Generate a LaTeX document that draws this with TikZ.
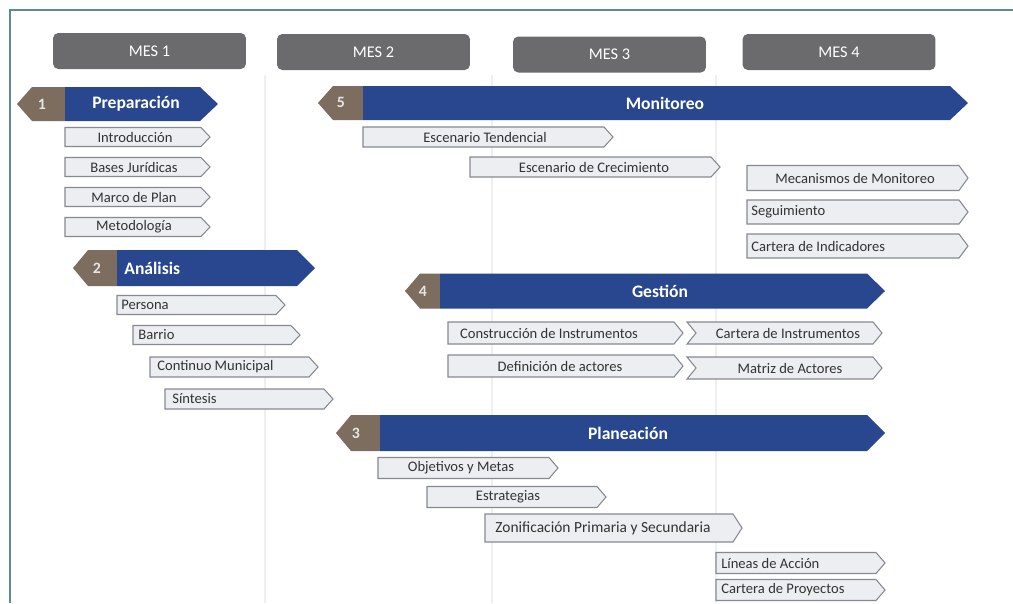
\documentclass[tikz,border=0pt]{standalone}
\usepackage{fontspec}
\setmainfont{Carlito}
\definecolor{mesgray}{HTML}{6B6B6D}
\definecolor{phblue}{HTML}{28478F}
\definecolor{phbrown}{HTML}{7D6D5E}
\definecolor{subfill}{HTML}{ECEEF2}
\definecolor{subline}{HTML}{868A90}
\definecolor{subtextc}{HTML}{333333}
\definecolor{frameblue}{HTML}{5E8797}
\definecolor{sepgray}{HTML}{EFEFEF}
\tikzset{
  mesbox/.style={fill=mesgray, rounded corners=3pt, text=white, minimum width=3.86cm, minimum height=0.72cm, inner sep=0pt, font=\fontsize{9.3}{10}\selectfont},
  subshape/.style={fill=subfill, draw=subline, line width=0.6pt, line join=miter},
  subtext/.style={text=subtextc, inner sep=0pt, font=\fontsize{8.3}{9}\selectfont},
  phnum/.style={text=white!90!black, inner sep=0pt, font=\bfseries\fontsize{9}{10}\selectfont},
  phtext/.style={text=white, inner sep=0pt, font=\bfseries\fontsize{10}{11}\selectfont},
  sepline/.style={draw=sepgray, line width=1pt},
}
\newcommand\subarrow[4]{%
  \filldraw[subshape] (#1,{#3-#4/2}) -- ({#2-9},{#3-#4/2}) -- (#2,#3) -- ({#2-9},{#3+#4/2}) -- (#1,{#3+#4/2}) -- cycle;}
\newcommand\subchevron[4]{%
  \filldraw[subshape] (#1,{#3-#4/2}) -- ({#2-9},{#3-#4/2}) -- (#2,#3) -- ({#2-9},{#3+#4/2}) -- (#1,{#3+#4/2}) -- ({#1+9},#3) -- cycle;}
\newcommand\phasebar[5]{%
  \fill[phbrown] (#1,#4) -- ({#1+15},{#4-#5/2}) -- (#2,{#4-#5/2}) -- (#2,{#4+#5/2}) -- ({#1+15},{#4+#5/2}) -- cycle;
  \fill[phblue] (#2,{#4-#5/2}) -- ({#3-18},{#4-#5/2}) -- (#3,#4) -- ({#3-18},{#4+#5/2}) -- (#2,{#4+#5/2}) -- cycle;}
\begin{document}
\begin{tikzpicture}[x=0.02cm, y=-0.02cm]
\useasboundingbox (0,0) rectangle (1013,603);
\fill[white] (0,0) rectangle (1013,603);
% frame
\draw[frameblue, line width=1.2pt] (10,603) -- (10,10) -- (1013,10);
% separators
\draw[sepline] (265,75) -- (265,603);
\draw[sepline] (492,75) -- (492,603);
\draw[sepline] (716,75) -- (716,603);
% months
\node[mesbox] (mes1) at (149.5,51) {MES 1};
\node[mesbox] (mes2) at (373.5,52) {MES 2};
\node[mesbox] (mes3) at (609.5,54.5) {MES 3};
\node[mesbox] (mes4) at (839,52) {MES 4};

% Phase 1
\phasebar{17}{65}{218}{104}{34}
\node[phnum] (n1) at (42,104) {1};
\node[phtext] (p1) at (136,104) {Preparación};
\subarrow{65}{210}{137}{19} \node[subtext] (s11) at (135,137) {Introducción};
\subarrow{65}{210}{167}{19} \node[subtext] (s12) at (134,167) {Bases Jurídicas};
\subarrow{65}{210}{197}{19} \node[subtext] (s13) at (134,197) {Marco de Plan};
\subarrow{65}{210}{227}{19} \node[subtext] (s14) at (134,227) {Metodología};

% Phase 2
\phasebar{73}{117}{315}{268}{36}
\node[phnum] (n2) at (97,268) {2};
\node[phtext, anchor=west] (p2) at (124,268) {Análisis};
\subarrow{117}{285}{305}{19} \node[subtext, anchor=west] (s21) at (121,305) {Persona};
\subarrow{133}{300}{335}{19} \node[subtext, anchor=west] (s22) at (138,335) {Barrio};
\subarrow{150}{318}{367}{20} \node[subtext, anchor=west] (s23) at (157,367) {Continuo Municipal};
\subarrow{165}{333}{399}{20} \node[subtext, anchor=west] (s24) at (172,399) {Síntesis};

% Phase 5
\phasebar{318}{363}{968}{103}{34}
\node[phnum] (n5) at (341,102) {5};
\node[phtext] (p5) at (665,103) {Monitoreo};
\subarrow{363}{613}{137}{20} \node[subtext] (s51) at (485,137) {Escenario Tendencial};
\subarrow{470}{720}{167}{20} \node[subtext] (s52) at (594,167) {Escenario de Crecimiento};
\subarrow{747}{968}{178}{25} \node[subtext] (s53) at (855,178) {Mecanismos de Monitoreo};
\subarrow{747}{968}{212}{24} \node[subtext, anchor=west] (s54) at (751,212) {Seguimiento};
\subarrow{747}{968}{246}{24} \node[subtext, anchor=west] (s55) at (751,246) {Cartera de Indicadores};

% Phase 4
\phasebar{405}{440}{885}{291}{35}
\node[phnum] (n4) at (423,291) {4};
\node[phtext] (p4) at (660,291) {Gestión};
\subarrow{448}{683}{333}{22} \node[subtext] (s41) at (549,333) {Construcción de Instrumentos};
\subchevron{687}{882}{333}{22} \node[subtext] (s42) at (788,333) {Cartera de Instrumentos};
\subarrow{448}{683}{366}{22} \node[subtext] (s43) at (560,366) {Definición de actores};
\subchevron{687}{882}{368}{22} \node[subtext] (s44) at (790,368) {Matriz de Actores};

% Phase 3
\phasebar{336}{380}{885}{433}{36}
\node[phnum] (n3) at (356,433) {3};
\node[phtext] (p3) at (628,433) {Planeación};
\subarrow{378}{558}{468}{21} \node[subtext] (s31) at (461,468) {Objetivos y Metas};
\subarrow{427}{606}{497}{21} \node[subtext] (s32) at (508,497) {Estrategias};
\subarrow{485}{742}{528}{28} \node[subtext, font=\fontsize{8.8}{10}\selectfont] (s33) at (603,528) {Zonificación Primaria y Secundaria};
\subarrow{716}{885}{563}{21} \node[subtext, anchor=west] (s34) at (721,563) {Líneas de Acción};
\subarrow{716}{885}{590}{21} \node[subtext, anchor=west] (s35) at (721,590) {Cartera de Proyectos};
\end{tikzpicture}
\end{document}
